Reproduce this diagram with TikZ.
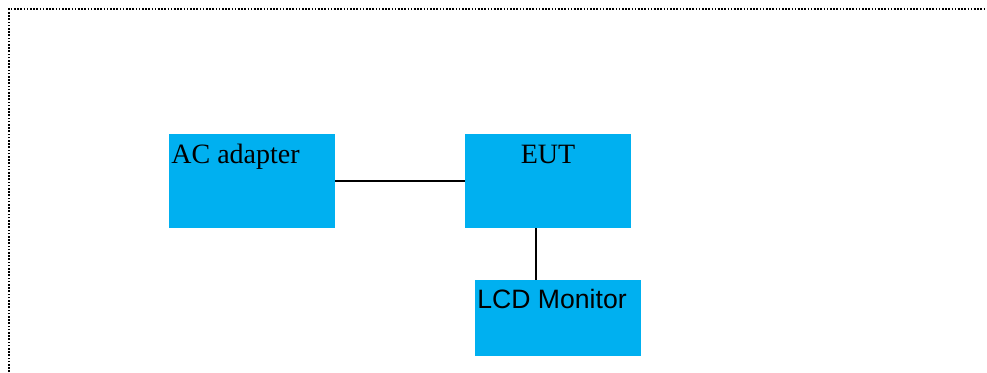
\documentclass[tikz,border=0pt]{standalone}
\usepackage{fontspec}
\setmainfont{Liberation Serif}
\newfontfamily\sansfont{Liberation Sans}
\usepackage{xcolor}
\usepackage{tikz}
\usetikzlibrary{calc}
\definecolor{boxfill}{HTML}{00B0F0}
\tikzset{
  frame/.style={draw=black, line width=0.9pt, dash pattern=on 0.8pt off 0.8pt},
  line/.style={draw=black, line width=0.7pt},
  unit/.style={rectangle, fill=boxfill, inner sep=0pt, minimum width=83pt, minimum height=47pt},
  lbl/.style={text=black, font=\fontsize{14}{16}\selectfont, inner sep=0pt},
  slbl/.style={text=black, font=\sansfont\fontsize{13.3}{15}\selectfont, inner sep=0pt}
}
\begin{document}
\begin{tikzpicture}[x=0.5pt, y=-0.5pt]
  \useasboundingbox (0,0) rectangle (987,372);
  \coordinate (TL) at (9,9);
  \draw[frame] (TL |- 0,372) -- (TL) -- (987,9);

  \node[unit] (ac) at (252,181) {};
  \node[unit] (eut) at (548,181) {};
  \node[unit, minimum height=38pt] (lcd) at (558,318) {};

  \draw[line] (ac.east) -- (eut.west);
  \coordinate (tap) at ([xshift=-6pt]eut.south);
  \draw[line] (tap) -- (tap |- lcd.north);

  \node[lbl, anchor=base west] (aclbl) at (171,163) {AC adapter};
  \node[lbl, anchor=base] (eutlbl) at (548,163) {EUT};
  \node[slbl, anchor=base west] (lcdlbl) at (477,308) {LCD Monitor};
\end{tikzpicture}
\end{document}
